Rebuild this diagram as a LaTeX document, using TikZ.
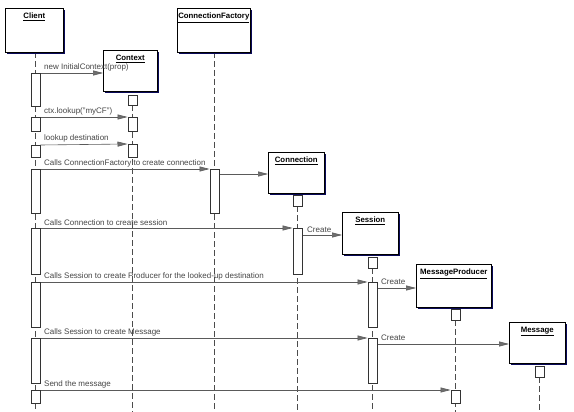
\documentclass[tikz,border=0pt]{standalone}
\usepackage{fontspec}
\setmainfont{Liberation Sans}
\usetikzlibrary{arrows.meta,shadows}
\definecolor{navy}{RGB}{10,10,90}
\definecolor{lblgray}{RGB}{70,70,70}
\definecolor{linegray}{RGB}{90,90,90}
\definecolor{tipgray}{RGB}{110,110,110}
\tikzset{
  obj/.style={draw=black, fill=white, line width=0.6pt, anchor=north west, inner sep=0pt,
    drop shadow={shadow xshift=2pt, shadow yshift=-2pt, fill=navy, opacity=1}},
  objtitle/.style={font=\fontsize{7.8}{9}\selectfont\bfseries, anchor=north, inner sep=0pt, text=black},
  act/.style={draw=black!80, fill=white, line width=0.5pt, anchor=north west, inner sep=0pt, minimum width=9.5pt},
  life/.style={draw=black!70, dash pattern=on 6pt off 3pt, line width=0.6pt},
  msg/.style={draw=linegray, line width=0.6pt, -{Triangle[length=10pt,width=5pt,fill=tipgray]}},
  lbl/.style={font=\fontsize{8}{9}\selectfont, text=lblgray, anchor=south west, inner sep=0pt}
}
\begin{document}
\begin{tikzpicture}[x=1pt,y=-1pt]
\fill[white] (0,0) rectangle (574,412);
\useasboundingbox (0,0) rectangle (574,412);
% lifelines
\coordinate (lcl) at (35,412);
\coordinate (lctx) at (132,412);
\coordinate (lcf) at (214,412);
\coordinate (lcon) at (297,412);
\coordinate (lses) at (372,412);
\coordinate (lmp) at (455,412);
\coordinate (lmsg) at (539,412);
\draw[life] (35,52) -- (lcl);
\draw[life] (132,105) -- (lctx);
\draw[life] (214,52) -- (lcf);
\draw[life] (297,206) -- (lcon);
\draw[life] (372,268) -- (lses);
\draw[life] (455,320) -- (lmp);
\draw[life] (539,377) -- (lmsg);
% objects
\node[obj, minimum width=58pt, minimum height=44pt] (client) at (5,8) {};
\node[objtitle] (tclient) at ([yshift=-5pt]client.north) {\underline{Client}};
\node[obj, minimum width=73pt, minimum height=44pt] (cf) at (177,8) {};
\node[objtitle] (tcf) at ([yshift=-5pt]cf.north) {\underline{ConnectionFactory}};
\node[obj, minimum width=54pt, minimum height=41pt] (ctx) at (103,50) {};
\node[objtitle] (tctx) at ([yshift=-5pt]ctx.north) {\underline{Context}};
\node[obj, minimum width=56pt, minimum height=41pt] (con) at (268,152) {};
\node[objtitle] (tcon) at ([yshift=-5pt]con.north) {\underline{Connection}};
\node[obj, minimum width=56pt, minimum height=42pt] (ses) at (342,212) {};
\node[objtitle] (tses) at ([yshift=-5pt]ses.north) {\underline{Session}};
\node[obj, minimum width=75pt, minimum height=43pt] (mp) at (416,264) {};
\node[objtitle] (tmp) at ([yshift=-5pt]mp.north) {\underline{MessageProducer}};
\node[obj, minimum width=56pt, minimum height=41pt] (msgo) at (509,322) {};
\node[objtitle] (tmsgo) at ([yshift=-5pt]msgo.north) {\underline{Message}};
% small boxes under heads
\node[act, minimum height=10pt] (hctx) at (127.5,95) {};
\node[act, minimum height=11pt] (hcon) at (292.5,195) {};
\node[act, minimum height=11pt] (hses) at (367.5,257) {};
\node[act, minimum height=11pt] (hmp) at (450.5,309) {};
\node[act, minimum height=11pt] (hmsg) at (534.5,366) {};
% client activations
\node[act, minimum height=33pt] (c1) at (30.5,73) {};
\node[act, minimum height=14pt] (c2) at (30.5,117) {};
\node[act, minimum height=12pt] (c3) at (30.5,145) {};
\node[act, minimum height=44pt] (c4) at (30.5,169) {};
\node[act, minimum height=46pt] (c5) at (30.5,228) {};
\node[act, minimum height=45pt] (c6) at (30.5,282) {};
\node[act, minimum height=45pt] (c7) at (30.5,338) {};
\node[act, minimum height=13pt] (c8) at (30.5,390) {};
% other activations
\node[act, minimum height=14pt] (x2) at (127.5,117) {};
\node[act, minimum height=13pt] (x3) at (127.5,144) {};
\node[act, minimum height=44pt] (f4) at (209.5,169) {};
\node[act, minimum height=46pt] (n5) at (292.5,228) {};
\node[act, minimum height=45pt] (s6) at (367.5,282) {};
\node[act, minimum height=45pt] (s7) at (367.5,338) {};
\node[act, minimum height=13pt] (p8) at (450.5,390) {};
% create start points
\coordinate (f4o) at ([yshift=-5pt]f4.north east);
\coordinate (n5o) at ([yshift=-7pt]n5.north east);
\coordinate (s6o) at ([yshift=-6pt]s6.north east);
\coordinate (s7o) at ([yshift=-6pt]s7.north east);
% messages
\draw[msg] (c1.north east) -- (ctx.west |- c1.north east);
\node[lbl] (m1) at (44,71) {new InitialContext(prop)};
\draw[msg] (c2.north east) -- (x2.north west);
\node[lbl] (m2) at (44,115) {ctx.lookup("myCF")};
\draw[msg] (c3.north east) -- (x3.north west);
\node[lbl] (m3) at (44,142) {lookup destination};
\draw[msg] (c4.north east) -- (f4.north west);
\node[lbl] (m4) at (44,167) {Calls ConnectionFactory to create connection};
\draw[msg] (f4o) -- (con.west |- f4o);
\draw[msg] (c5.north east) -- (n5.north west);
\node[lbl] (m5) at (44,226) {Calls Connection to create session};
\draw[msg] (n5o) -- (ses.west |- n5o);
\node[lbl] (m5b) at (307,233) {Create};
\draw[msg] (c6.north east) -- (s6.north west);
\node[lbl] (m6) at (44,280) {Calls Session to create Producer for the looked-up destination};
\draw[msg] (s6o) -- (mp.west |- s6o);
\node[lbl] (m6b) at (381,285) {Create};
\draw[msg] (c7.north east) -- (s7.north west);
\node[lbl] (m7) at (44,336) {Calls Session to create Message};
\draw[msg] (s7o) -- (msgo.west |- s7o);
\node[lbl] (m7b) at (381,341) {Create};
\draw[msg] (c8.north east) -- (p8.north west);
\node[lbl] (m8) at (44,388) {Send the message};
\end{tikzpicture}
\end{document}
